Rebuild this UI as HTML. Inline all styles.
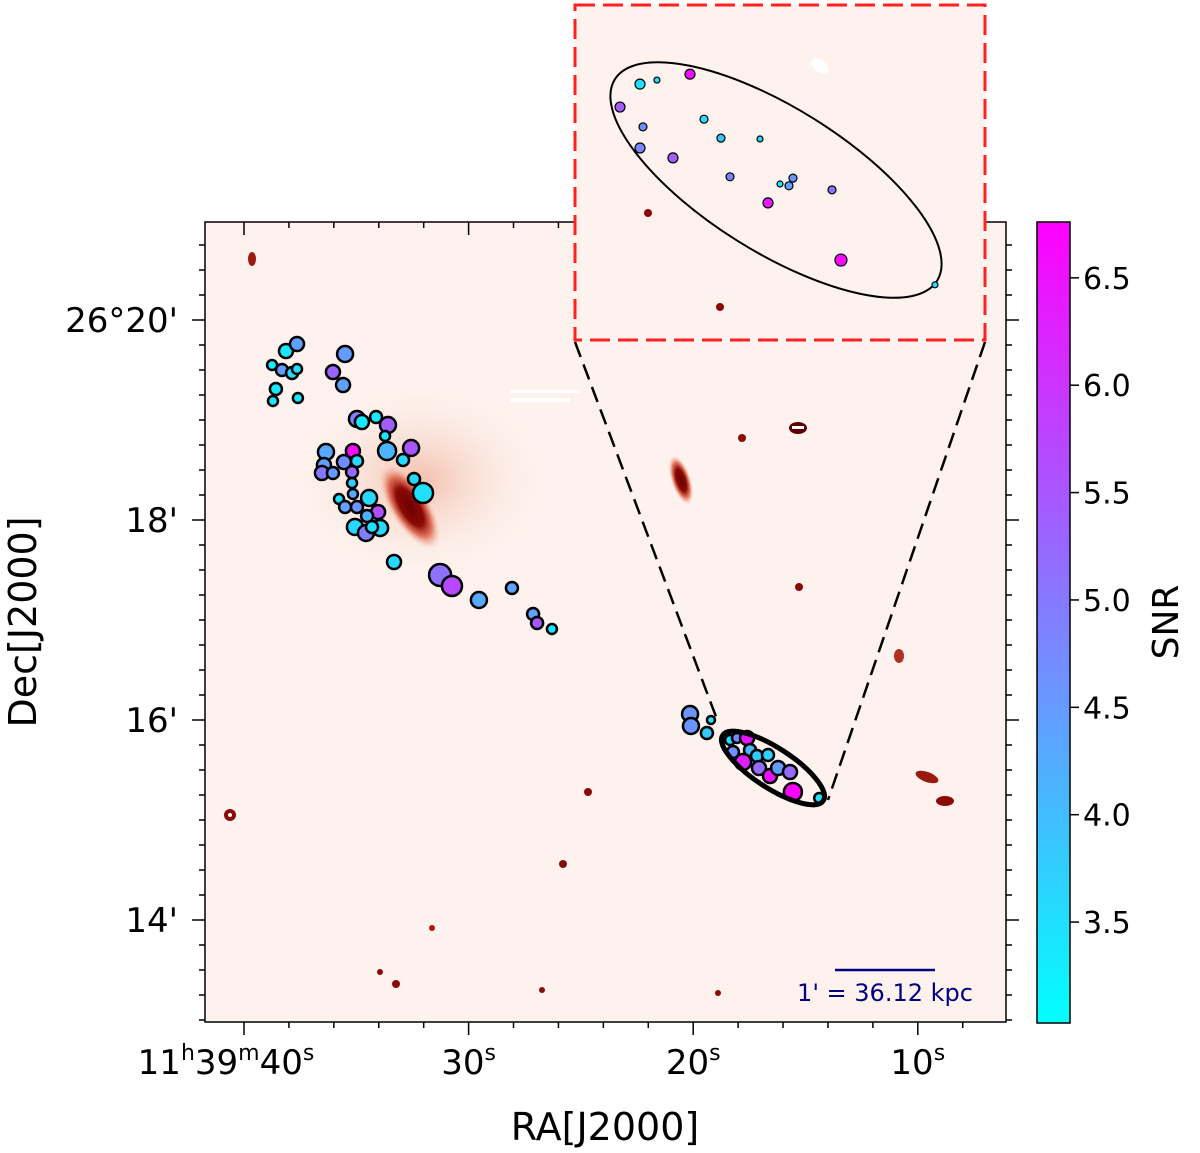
<!DOCTYPE html>
<html><head><meta charset="utf-8">
<style>
html,body{margin:0;padding:0;background:#fff;}
svg{display:block;font-family:"DejaVu Sans","Liberation Sans",sans-serif;}
</style></head>
<body>
<svg id="chart" width="1200" height="1153" viewBox="0 0 1200 1153" xmlns="http://www.w3.org/2000/svg">
<defs>
<linearGradient id="cmap" x1="0" y1="1" x2="0" y2="0">
<stop offset="0" stop-color="#00ffff"/><stop offset="1" stop-color="#ff00ff"/>
</linearGradient>
<radialGradient id="gal" cx="0.5" cy="0.5" r="0.5">
<stop offset="0" stop-color="#6b0000"/><stop offset="0.45" stop-color="#8a0a05"/><stop offset="0.7" stop-color="#d8553a" stop-opacity="0.8"/><stop offset="1" stop-color="#f6c4b4" stop-opacity="0"/>
</radialGradient>
<radialGradient id="halo" cx="0.5" cy="0.5" r="0.5">
<stop offset="0" stop-color="#f2b9a5" stop-opacity="0.9"/><stop offset="1" stop-color="#fbe6dc" stop-opacity="0"/>
</radialGradient>
</defs>
<g id="main-frame-bg">
<rect x="205" y="222" width="801" height="800" fill="#fdf2ed"/>
<ellipse cx="420" cy="480" rx="120" ry="90" fill="url(#halo)"/>
<ellipse cx="410" cy="507" rx="48" ry="20" transform="rotate(58 410 507)" fill="url(#gal)"/>
<ellipse cx="681" cy="480" rx="26" ry="10" transform="rotate(72 681 480)" fill="url(#gal)"/>
<ellipse cx="927" cy="777" rx="12" ry="5" transform="rotate(20 927 777)" fill="#9a1a10"/>
<ellipse cx="945" cy="801" rx="9" ry="5" fill="#8a0a05"/>
<ellipse cx="899" cy="656" rx="5" ry="7" fill="#b23020"/>
<ellipse cx="252" cy="259" rx="4" ry="7" fill="#a01a10"/>
<circle cx="742" cy="438" r="4" fill="#8a0a05"/>
<circle cx="799" cy="587" r="4" fill="#8a0a05"/>
<circle cx="588" cy="792" r="4" fill="#8a0a05"/>
<circle cx="563" cy="864" r="4" fill="#8a0a05"/>
<circle cx="396" cy="984" r="4" fill="#8a0a05"/>
<circle cx="380" cy="972" r="3" fill="#8a0a05"/>
<circle cx="718" cy="993" r="3" fill="#8a0a05"/>
<circle cx="542" cy="990" r="3" fill="#8a0a05"/>
<circle cx="432" cy="928" r="3" fill="#a01a10"/>
<circle cx="230" cy="815" r="6" fill="#8a0a05"/>
<circle cx="230" cy="815" r="2" fill="#fff"/>
<rect x="510" y="390" width="70" height="3" fill="#fff"/>
<rect x="510" y="398" width="60" height="4" fill="#fff"/>
<ellipse cx="798" cy="428" rx="9" ry="6" fill="#5a0000"/>
<rect x="792" y="426" width="12" height="3" fill="#fff"/>
</g>
<g id="ticks"></g>
<g id="points"></g>
<ellipse cx="773" cy="768" rx="60" ry="20" transform="rotate(33 773 768)" fill="none" stroke="#000" stroke-width="5"/>
<line x1="575" y1="342" x2="718" y2="722" stroke="#000" stroke-width="2.5" stroke-dasharray="16,8"/>
<line x1="985" y1="342" x2="828" y2="800" stroke="#000" stroke-width="2.5" stroke-dasharray="16,8"/>
<rect x="205" y="222" width="801" height="800" fill="none" stroke="#000" stroke-width="1.5"/>
<g id="inset">
<rect x="575" y="5" width="410" height="335" fill="#fdf2ed"/>
<circle cx="648" cy="213" r="4" fill="#8a0a05"/>
<circle cx="720" cy="307" r="4" fill="#8a0a05"/>
<ellipse cx="820" cy="66" rx="10" ry="6" transform="rotate(35 820 66)" fill="#fff"/>
<ellipse cx="776" cy="180" rx="190" ry="72" transform="rotate(32 776 180)" fill="none" stroke="#000" stroke-width="2"/>
<g id="inset-points"></g>
<rect x="575" y="5" width="410" height="335" fill="none" stroke="#ff2020" stroke-width="3" stroke-dasharray="20,8"/>
</g>
<g>
<line x1="835" y1="970" x2="935" y2="970" stroke="#000080" stroke-width="2.5"/>
<text x="885" y="1001" font-size="24" fill="#000080" text-anchor="middle">1' = 36.12 kpc</text>
</g>
<g id="colorbar">
<rect x="1037" y="222" width="33" height="801" fill="url(#cmap)" stroke="#000" stroke-width="1.5"/>
</g>
<text transform="translate(1178 622) rotate(-90)" font-size="36" text-anchor="middle">SNR</text>
<text transform="translate(36 622) rotate(-90)" font-size="38" text-anchor="middle">Dec[J2000]</text>
<text x="605" y="1140" font-size="38" text-anchor="middle">RA[J2000]</text>
</svg>
<script>
// main field data (RA seconds past 11h39m, Dec arcmin past 26°)
const ra = [38.13,37.64,38.75,38.31,37.86,37.64,35.50,36.04,35.59,38.58,38.71,37.60,34.97,34.75,34.12,33.59,33.72,33.63,32.56,32.92,36.35,35.15,34.97,35.55,36.44,36.53,36.04,35.19,35.19,32.43,32.03,35.15,34.43,35.77,35.50,34.97,34.03,34.52,35.06,34.57,33.94,34.30,33.32,31.27,30.74,29.54,28.07,27.13,26.95,26.29,20.14,20.10,19.21,19.39,18.36,18.05,17.60,18.23,17.47,17.16,16.67,17.78,17.07,16.58,16.22,15.69,15.56,14.39];
const dec = [19.69,19.76,19.55,19.50,19.47,19.51,19.66,19.48,19.35,19.31,19.19,19.22,19.01,18.98,19.03,18.95,18.84,18.69,18.72,18.60,18.68,18.69,18.59,18.58,18.55,18.47,18.47,18.48,18.37,18.41,18.27,18.26,18.22,18.21,18.13,18.13,18.08,18.04,17.93,17.87,17.92,17.93,17.58,17.45,17.34,17.20,17.32,17.06,16.97,16.91,16.06,15.94,16.00,15.87,15.80,15.82,15.82,15.68,15.70,15.64,15.65,15.58,15.52,15.44,15.52,15.48,15.28,15.22];
const snr = [3.4,4.4,3.3,4.5,3.6,3.5,4.5,5.3,4.4,3.4,3.4,3.4,4.9,3.4,3.4,5.4,3.4,4.1,5.5,3.6,4.3,6.6,3.6,4.7,4.4,5.0,4.5,5.2,3.8,3.6,3.5,4.3,3.6,3.5,4.4,4.6,5.6,4.2,3.6,4.9,3.6,3.5,3.6,5.1,5.7,4.3,4.4,4.4,5.5,3.4,4.6,4.6,3.4,3.8,3.6,4.8,6.5,4.7,4.1,3.8,3.7,6.3,5.2,6.5,4.5,5.2,6.7,3.5];
const msize = [7,7,5,6,6,5,8,7,7,6,5,5,8,7,6,8,5,9,8,6,8,7,6,7,7,7,6,6,5,6,10,5,8,5,6,6,7,6,8,8,8,6,7,11,10,8,6,6,6,5,8,8,4,6,5,5,7,6,6,6,6,8,7,7,7,7,9,5];
// inset data
const insetRa = [18.05,18.675,18.463,18.925,17.875,18.638,17.663,17.175,18.675,18.263,17.55,16.925,16.763,16.813,16.275,17.075,16.163,14.988];
const insetDec = [15.794,15.772,15.781,15.721,15.694,15.677,15.652,15.650,15.630,15.608,15.566,15.550,15.563,15.546,15.537,15.508,15.381,15.326];
const insetSnr = [6.6,3.5,3.6,5.4,3.6,4.7,3.9,3.6,4.8,5.4,4.9,3.4,4.6,4.4,5.0,6.4,6.6,3.5];
const insetSize = [5,5,3,5,4,4,4,3,5,5,4,3,4,4,4,5,6,3];
const raTicks = [40,30,20,10];
const raTickLabels = ["11h39m40s","30s","20s","10s"];
const decTicks = [20,18,16,14];
const decTickLabels = ["26°20'","18'","16'","14'"];
const cbTicks = [3.5,4.0,4.5,5.0,5.5,6.0,6.5];
const cbMin = 3.03, cbMax = 6.76;

const NS = "http://www.w3.org/2000/svg";
function xs(v){return 244 + (40 - v) * 22.46;}
function ys(v){return 320 + (20 - v) * 100;}
function ixs(v){return 574 + (19.5 - v) * 80;}
function iys(v){return 4 + (15.95 - v) * 450;}
function cby(v){return 222 + (cbMax - v) / (cbMax - cbMin) * 801;}
function cmap(v){let t=(v-cbMin)/(cbMax-cbMin);t=Math.max(0,Math.min(1,t));return "rgb("+Math.round(255*t)+","+Math.round(255*(1-t))+",255)";}
function mk(tag,attrs,parent){const e=document.createElementNS(NS,tag);for(const k in attrs)e.setAttribute(k,attrs[k]);parent.appendChild(e);return e;}

const pg = document.getElementById("points");
for(let i=0;i<ra.length;i++){
  const c = mk("circle",{cx:xs(ra[i]),cy:ys(dec[i]),r:msize[i],fill:cmap(snr[i]),stroke:"#000","stroke-width":2.5},pg);
  
  
}
const ipg = document.getElementById("inset-points");
for(let i=0;i<insetRa.length;i++){
  const c = mk("circle",{cx:ixs(insetRa[i]),cy:iys(insetDec[i]),r:insetSize[i],fill:cmap(insetSnr[i]),stroke:"#000","stroke-width":1.2},ipg);
  
  
}
const tg = document.getElementById("ticks");
function line(x1,y1,x2,y2,w){mk("line",{x1:x1,y1:y1,x2:x2,y2:y2,stroke:"#000","stroke-width":w},tg);}
// RA ticks
for(let s=6;s<=41;s+=2){const x=xs(s);if(x<205||x>1006)continue;const major=s%10===0;const L=major?13:6;line(x,1022,x,1022+L,1.5);line(x,222,x,222+L,1.5);}
raTicks.forEach((v,i)=>{
  const t=mk("text",{x:xs(v),y:1074,"font-size":34,"text-anchor":"middle"},tg);
  
  
  if(i===0){t.setAttribute("x",xs(v)-18);t.innerHTML='11<tspan dy="-14" font-size="22">h</tspan><tspan dy="14">39</tspan><tspan dy="-14" font-size="22">m</tspan><tspan dy="14">40</tspan><tspan dy="-14" font-size="22">s</tspan>';}
  else {t.innerHTML=raTickLabels[i].replace("s","")+'<tspan dy="-14" font-size="22">s</tspan>';}
});
// Dec ticks
for(let d=13;d<=21;d+=0.25){const y=ys(d);if(y<222||y>1022)continue;const major=Math.abs(d-Math.round(d))<1e-6&&Math.round(d)%2===0;const L=major?13:6;line(205,y,205-L,y,1.5);line(1006,y,1006+L,y,1.5);}
decTicks.forEach((v,i)=>{
  const t=mk("text",{x:178,y:ys(v)+12,"font-size":34,"text-anchor":"end"},tg);
  
  
  t.textContent=decTickLabels[i];
});
// colorbar ticks
const cb = document.getElementById("colorbar");
cbTicks.forEach(v=>{
  const y=cby(v);
  mk("line",{x1:1070,y1:y,x2:1079,y2:y,stroke:"#000","stroke-width":1.5},cb);
  const t=mk("text",{x:1083,y:y+11,"font-size":30},cb);
  
  
  t.textContent=v.toFixed(1);
});
</script>
</body></html>
